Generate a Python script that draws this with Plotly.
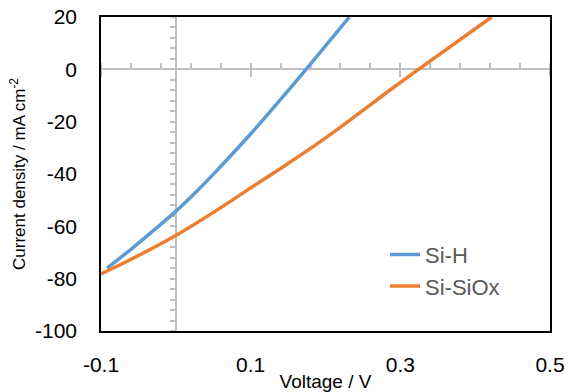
import plotly.graph_objects as go

# Data
sih_v = [-0.092, -0.057, -0.02, 0.001, 0.03, 0.055, 0.099, 0.14, 0.174, 0.232]
sih_j = [-76.0, -68.1, -59.2, -54.0, -46.0, -38.6, -25.0, -11.5, 0.0, 20.0]

siox_v = [-0.1, -0.057, 0.001, 0.055, 0.099, 0.1436, 0.1883, 0.2327, 0.2773, 0.3219, 0.422]
siox_j = [-78.2, -72.2, -63.3, -53.8, -45.5, -37.2, -28.6, -19.4, -9.8, -0.5, 20.0]

x_range = [-0.1, 0.5]
y_range = [-100, 20]
x_ticks = [-0.1, 0.1, 0.3, 0.5]
x_ticklabels = ["-0.1", "0.1", "0.3", "0.5"]
y_ticks = [-100, -80, -60, -40, -20, 0, 20]
y_ticklabels = ["-100", "-80", "-60", "-40", "-20", "0", "20"]

FONT = "Liberation Sans, Arial, sans-serif"
GRAY = "#BFBFBF"

fig = go.Figure()
fig.add_trace(go.Scatter(x=sih_v, y=sih_j, mode="lines", name="Si-H",
                         line=dict(color="#5B9BD5", width=3.5, shape="spline", smoothing=1)))
fig.add_trace(go.Scatter(x=siox_v, y=siox_j, mode="lines", name="Si-SiOx",
                         line=dict(color="#ED7D31", width=3.5, shape="spline", smoothing=0.8)))
# carrier traces for the crossing (zero) axes
fig.add_trace(go.Scatter(x=[None], y=[None], xaxis="x2", yaxis="y2",
                         showlegend=False, hoverinfo="skip"))
fig.add_trace(go.Scatter(x=[None], y=[None], xaxis="x3", yaxis="y3",
                         showlegend=False, hoverinfo="skip"))

x_zero_pos = (0 - y_range[0]) / (y_range[1] - y_range[0])
y_zero_pos = (0 - x_range[0]) / (x_range[1] - x_range[0])

fig.update_layout(
    width=569, height=392,
    margin=dict(l=101, r=19, t=17, b=61),
    paper_bgcolor="white", plot_bgcolor="white",
    font=dict(family=FONT, size=21, color="black"),
    xaxis=dict(range=x_range, tickmode="array", tickvals=x_ticks, ticktext=x_ticklabels,
               showgrid=False, zeroline=False, showline=True, linecolor="black",
               linewidth=1.6, mirror=True, ticks="", ticklabelstandoff=14,
               title=dict(text="Voltage / V", font=dict(size=19), standoff=6),
               automargin=False, layer="above traces"),
    yaxis=dict(range=y_range, tickmode="array", tickvals=y_ticks, ticktext=y_ticklabels,
               showgrid=False, zeroline=False, showline=True, linecolor="black",
               linewidth=1.6, mirror=True, ticks="", ticklabelstandoff=18,
               title=dict(text="Current density / mA cm<sup>-2</sup>", font=dict(size=17),
                          standoff=5),
               automargin=False),
    xaxis2=dict(overlaying="x", anchor="free", position=x_zero_pos, range=x_range,
                showline=True, linecolor=GRAY, linewidth=2, showgrid=False, zeroline=False,
                showticklabels=False, tickmode="linear", tick0=-0.1, dtick=0.2,
                ticks="outside", ticklen=7, tickwidth=2, tickcolor=GRAY,
                minor=dict(tickmode="linear", tick0=-0.1, dtick=0.04, ticks="inside",
                           ticklen=5, tickwidth=2, tickcolor=GRAY),
                automargin=False, layer="below traces"),
    yaxis2=dict(overlaying="y", anchor="free", position=y_zero_pos, range=y_range,
                showline=True, linecolor=GRAY, linewidth=2, showgrid=False, zeroline=False,
                showticklabels=False, tickmode="linear", tick0=-100, dtick=20,
                ticks="outside", ticklen=5, tickwidth=2, tickcolor=GRAY,
                minor=dict(tickmode="linear", tick0=-100, dtick=4, ticks="outside",
                           ticklen=5, tickwidth=2, tickcolor=GRAY),
                automargin=False, layer="below traces"),
    xaxis3=dict(overlaying="x", anchor="free", position=x_zero_pos, range=x_range,
                showline=False, showgrid=False, zeroline=False, showticklabels=False,
                tickmode="linear", tick0=-0.1, dtick=0.2, ticks="inside", ticklen=5,
                tickwidth=2, tickcolor=GRAY, automargin=False, layer="below traces"),
    yaxis3=dict(overlaying="y", anchor="free", position=y_zero_pos, range=y_range,
                showline=False, showgrid=False, zeroline=False, showticklabels=False,
                ticks="", automargin=False, layer="below traces"),
    legend=dict(x=0.6325, y=0.31, xanchor="left", yanchor="top",
                font=dict(size=22, color="#595959"), bgcolor="rgba(0,0,0,0)",
                itemwidth=30, tracegroupgap=0),
    showlegend=True,
)

fig.write_html("out.html")
